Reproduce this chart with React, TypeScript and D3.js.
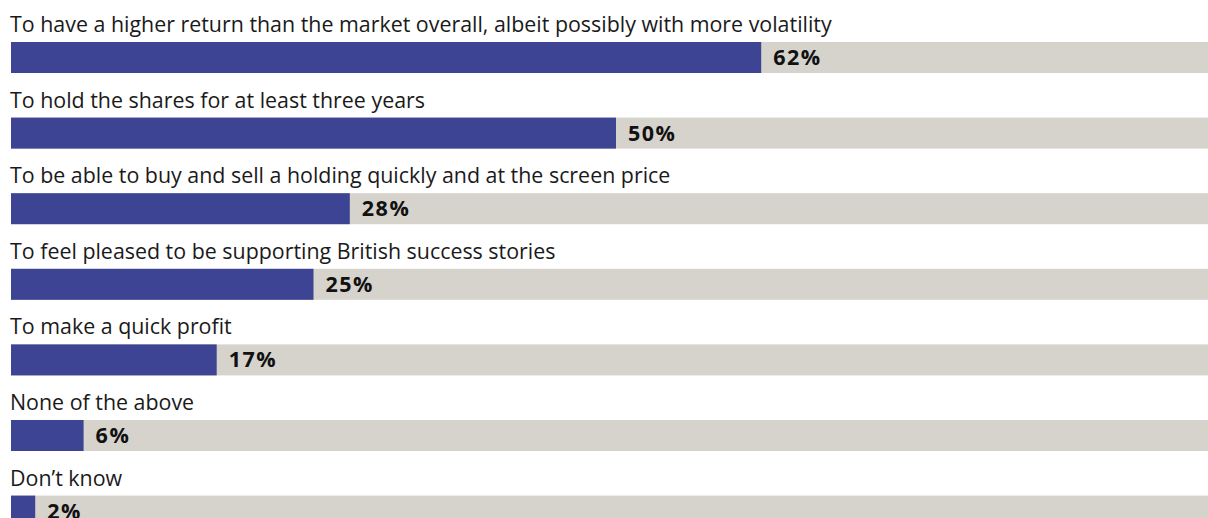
import { useEffect, useRef } from "react";
import * as d3 from "d3";

const categories: string[] = [
  "To have a higher return than the market overall, albeit possibly with more volatility",
  "To hold the shares for at least three years",
  "To be able to buy and sell a holding quickly and at the screen price",
  "To feel pleased to be supporting British success stories",
  "To make a quick profit",
  "None of the above",
  "Don\u2019t know",
];
const values: number[] = [62, 50, 28, 25, 17, 6, 2];

const App: React.FC = () => {
  const svgRef = useRef<SVGSVGElement | null>(null);

  useEffect(() => {
    if (!svgRef.current) return;
    const width = 1208;
    const height = 518;
    const left = 11;
    const top = 42;
    const step = 75.6;
    const barH = 31;

    const svg = d3.select(svgRef.current).attr("width", width).attr("height", height);
    svg.selectAll("*").remove();

    const x = d3.scaleLinear().domain([0, 100]).range([left, left + 1210]);
    const y = (i: number) => top + i * step;

    const rows = svg
      .selectAll("g.row")
      .data(categories.map((c, i) => ({ c, v: values[i], i })))
      .enter()
      .append("g")
      .attr("class", "row");

    // grey track
    rows
      .append("rect")
      .attr("x", left)
      .attr("y", (d) => y(d.i))
      .attr("width", width - left)
      .attr("height", barH)
      .attr("fill", "#d6d3cc");

    rows
      .append("rect")
      .attr("x", left)
      .attr("y", (d) => y(d.i))
      .attr("width", (d) => x(d.v) - left)
      .attr("height", barH)
      .attr("fill", "#3c4493");

    rows
      .append("text")
      .attr("x", left - 1)
      .attr("y", (d) => y(d.i) - 10)
      .attr("font-family", "'Open Sans', sans-serif")
      .attr("font-size", 21.4)
      .attr("fill", "#1a1a1a")
      .text((d) => d.c);

    rows
      .append("text")
      .attr("x", (d) => x(d.v) + 12)
      .attr("y", (d) => y(d.i) + 23)
      .attr("font-family", "'Open Sans', sans-serif")
      .attr("font-size", 21.5)
      .attr("font-weight", 700)
      .attr("letter-spacing", 1.5)
      .attr("fill", "#111")
      .text((d) => `${d.v}%`);
  }, []);

  return (
    <svg
      ref={svgRef}
      style={{ position: "absolute", left: 0, top: 0, display: "block" }}
    ></svg>
  );
};

export default App;
